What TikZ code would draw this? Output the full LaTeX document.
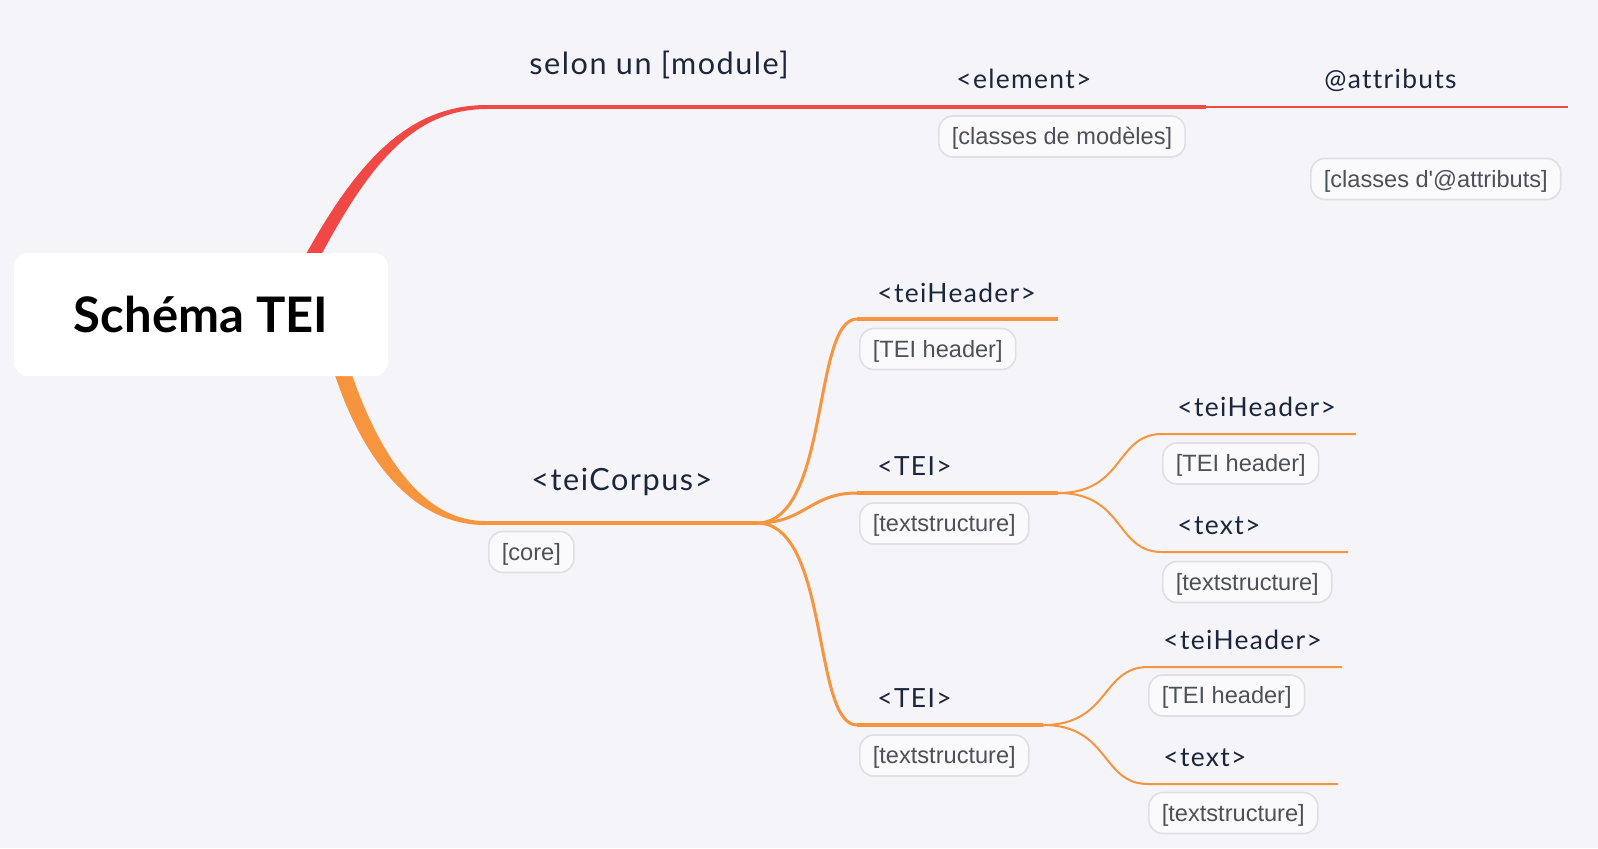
\documentclass[tikz,border=0pt]{standalone}
\usepackage{fontspec}
\setmainfont{Lato}
\newfontfamily\mapfont[LetterSpace=5, Ligatures=NoCommon]{Lato}
\newfontfamily\tagfont{Liberation Sans}
\usepackage{tikz}
\usetikzlibrary{calc}
\definecolor{mapbg}{RGB}{245,245,249}
\definecolor{mapred}{RGB}{240,72,68}
\definecolor{maporange}{RGB}{247,148,62}
\definecolor{mapink}{RGB}{27,38,59}
\definecolor{tagink}{RGB}{76,81,88}
\definecolor{tagline}{RGB}{224,224,228}
\definecolor{tagfill}{RGB}{250,250,252}
\tikzset{
  topic/.style={anchor=base west, inner sep=0pt, text=mapink, font=\mapfont\fontsize{15.3}{18}\selectfont},
  subtopic/.style={topic, font=\mapfont\fontsize{13.2}{16}\selectfont},
  tag/.style={anchor=west, draw=tagline, line width=0.8pt, fill=tagfill, rounded corners=7pt, inner xsep=6.5pt, inner ysep=0pt, minimum height=20.5pt, text height=10.6pt, text depth=2.5pt, text=tagink, font=\tagfont\fontsize{11.8}{14}\selectfont},
  bough/.style={line width=2pt},
  twig/.style={line width=1.5pt},
  sprig/.style={line width=1pt},
}

\begin{document}
\begin{tikzpicture}[x=0.5pt, y=-0.5pt]
		%%%%% START %%%%%
		
		\fill[mapbg] (0, 0) rectangle (1598, 848);
		
		\coordinate (rootC) at (201, 314.5);
		\coordinate (moduleL) at (487, 107);
		\coordinate (moduleR) at (939, 107);
		\coordinate (elementR) at (1206, 107);
		\coordinate (attribR) at (1568, 107);
		\coordinate (corpusL) at (485, 523);
		\coordinate (corpusR) at (757, 523);
		
		% thick tapered branches out of the root
		\fill[mapred] ($(rootC)+(81,-15)$) .. controls (344, 177) and (398, 105) .. ($(moduleL)+(0,-2)$) -- ($(moduleL)+(0,2)$) .. controls (402, 109) and (357, 183) .. ($(rootC)+(97,-15)$) -- cycle;
		\fill[maporange] ($(rootC)+(121,15)$) .. controls (352, 456) and (412, 525) .. ($(corpusL)+(0,2)$) -- ($(corpusL)+(0,-2)$) .. controls (418, 521) and (369, 444) .. ($(rootC)+(137,15)$) -- cycle;
		
		\node[fill=white, rounded corners=7pt, minimum width=187pt, minimum height=61.5pt, text height=17.5pt, text depth=0pt, font=\bfseries\fontsize{24.5}{28}\selectfont] (root) at (rootC) {Schéma TEI};
		
		% red side
		\draw[bough, mapred] (moduleL) -- (moduleR);
		\draw[bough, mapred] (moduleR) -- (elementR);
		\draw[line width=1.2pt, mapred] (elementR) -- (attribR);
		
		\node[topic] (module) at (529, 74) {selon un [module]};
		\node[subtopic] (element) at (956, 88) {<element>};
		\node[subtopic] (attributs) at (1324, 88) {@attributs};
		\node[tag] (elementTag) at (938, 136.5) {[classes de modèles]};
		\node[tag] (attributsTag) at (1310, 179) {[classes d'@attributs]};
		
		% orange side
		\coordinate (headA) at (857, 319);
		\coordinate (headAR) at (1058, 319);
		\coordinate (teiA) at (857, 493);
		\coordinate (teiAR) at (1058, 493);
		\coordinate (teiB) at (857, 725);
		\coordinate (teiBR) at (1043, 725);
		\coordinate (headB) at (1162, 434);
		\coordinate (headBR) at (1356, 434);
		\coordinate (textA) at (1162, 552);
		\coordinate (textAR) at (1348, 552);
		\coordinate (headC) at (1148, 667);
		\coordinate (headCR) at (1342, 667);
		\coordinate (textB) at (1148, 784);
		\coordinate (textBR) at (1338, 784);
		
		\draw[bough, maporange] (corpusL) -- (corpusR);
		\draw[twig, maporange] (corpusR) .. controls +(73, 0) and +(-45, 0) .. (headA);
		\draw[twig, maporange] (corpusR) .. controls +(48, 0) and +(-47, 0) .. (teiA);
		\draw[twig, maporange] (corpusR) .. controls +(73, 0) and +(-45, 0) .. (teiB);
		\draw[line width=1.75pt, maporange] (headA) -- (headAR);
		\draw[line width=1.75pt, maporange] (teiA) -- (teiAR);
		\draw[line width=1.75pt, maporange] (teiB) -- (teiBR);
		
		\draw[sprig, maporange] (teiAR) .. controls +(67, 0) and +(-47, 0) .. (headB) -- (headBR);
		\draw[sprig, maporange] (teiAR) .. controls +(67, 0) and +(-47, 0) .. (textA) -- (textAR);
		\draw[sprig, maporange] (teiBR) .. controls +(67, 0) and +(-47, 0) .. (headC) -- (headCR);
		\draw[sprig, maporange] (teiBR) .. controls +(67, 0) and +(-47, 0) .. (textB) -- (textBR);
		
		\node[topic] (corpus) at (531, 490) {<teiCorpus>};
		\node[tag] (corpusTag) at (488, 552) {[core]};
		
		\node[subtopic] (headerA) at (877, 302) {<teiHeader>};
		\node[tag] (headerATag) at (859, 349) {[TEI header]};
		\node[subtopic] (teiOne) at (877, 475) {<TEI>};
		\node[tag] (teiOneTag) at (859, 523.5) {[textstructure]};
		\node[subtopic] (teiTwo) at (877, 707) {<TEI>};
		\node[tag] (teiTwoTag) at (859, 755.5) {[textstructure]};
		
		\node[subtopic] (headerB) at (1177, 416) {<teiHeader>};
		\node[tag] (headerBTag) at (1162, 463.5) {[TEI header]};
		\node[subtopic] (textOne) at (1177, 534) {<text>};
		\node[tag] (textOneTag) at (1162, 582) {[textstructure]};
		\node[subtopic] (headerC) at (1163, 649) {<teiHeader>};
		\node[tag] (headerCTag) at (1148, 695.5) {[TEI header]};
		\node[subtopic] (textTwo) at (1163, 766) {<text>};
		\node[tag] (textTwoTag) at (1148, 813) {[textstructure]};
		
		%%%%% END %%%%%
	\end{tikzpicture}
\end{document}
